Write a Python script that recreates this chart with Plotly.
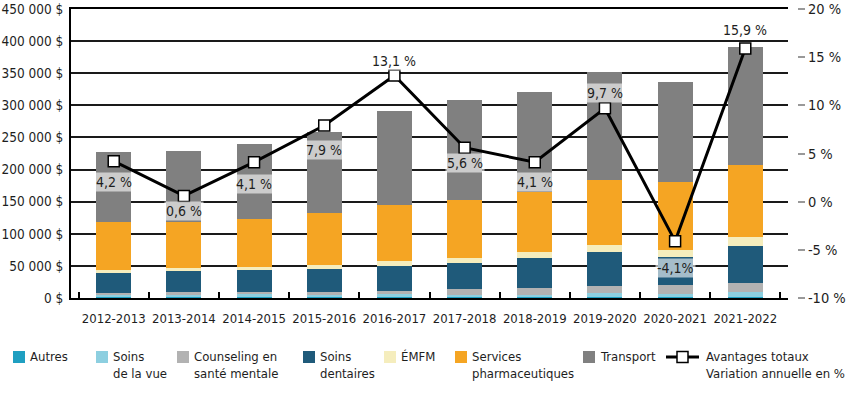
import plotly.graph_objects as go

years = ["2012-2013", "2013-2014", "2014-2015", "2015-2016", "2016-2017",
         "2017-2018", "2018-2019", "2019-2020", "2020-2021", "2021-2022"]

# values in dollars (thousands)
autres      = [1.0, 1.0, 1.2, 1.2, 1.2, 1.0, 1.0, 1.5, 1.2, 1.8]
vue         = [4.4, 4.4, 4.5, 4.5, 4.5, 4.4, 4.0, 6.7, 5.4, 7.0]
counseling  = [3.1, 3.4, 4.0, 3.1, 5.1, 8.1, 10.0, 10.7, 13.2, 14.4]
dentaires   = [30.6, 33.4, 33.6, 36.5, 39.8, 41.7, 47.3, 52.2, 44.1, 57.7]
emfm        = [4.2, 4.7, 5.1, 5.7, 6.6, 7.1, 9.3, 11.9, 11.4, 13.9]
pharma      = [75.8, 72.2, 75.3, 82.0, 87.7, 90.3, 92.8, 100.6, 106.1, 112.4]
transport   = [108.7, 109.8, 115.5, 125.2, 146.9, 155.1, 156.2, 167.9, 155.7, 183.0]

variation = [4.2, 0.6, 4.1, 7.9, 13.1, 5.6, 4.1, 9.7, -4.1, 15.9]
variation_labels = ["4,2 %", "0,6 %", "4,1 %", "7,9 %", "13,1 %",
                    "5,6 %", "4,1 %", "9,7 %", "-4,1%", "15,9 %"]

left_tickvals = [0, 50000, 100000, 150000, 200000, 250000, 300000, 350000, 400000, 450000]
left_ticktext = ["0 $", "50 000 $", "100 000 $", "150 000 $", "200 000 $",
                 "250 000 $", "300 000 $", "350 000 $", "400 000 $", "450 000 $"]
right_tickvals = [-10, -5, 0, 5, 10, 15, 20]
right_ticktext = ["-10 %", "-5 %", "0 %", "5 %", "10 %", "15 %", "20 %"]

series = [
    ("Autres", autres, "#1f9fc1"),
    ("Soins<br>de la vue", vue, "#8dcfe0"),
    ("Counseling en<br>santé mentale", counseling, "#b2b2b2"),
    ("Soins<br>dentaires", dentaires, "#1f5a7a"),
    ("ÉMFM", emfm, "#f5edbd"),
    ("Services<br>pharmaceutiques", pharma, "#f5a523"),
    ("Transport", transport, "#808080"),
]
line_name = "Avantages totaux<br>Variation annuelle en %"

# style: label vertical offsets in pixels (positive = below point)
label_offsets = [21, 15, 22, 24, -14, 15, 20, -15, 27, -19]

FONT = "DejaVu Sans Condensed, Liberation Sans, sans-serif"
TXT = "#1e1e1e"

fig = go.Figure()
for name, vals, col in series:
    fig.add_trace(go.Bar(
        x=years, y=[v * 1000 for v in vals], name=name,
        marker=dict(color=col, line=dict(width=0)),
        showlegend=False, yaxis="y",
    ))

fig.add_trace(go.Scatter(
    x=years, y=variation, name=line_name, yaxis="y2", mode="lines+markers",
    line=dict(color="black", width=3),
    marker=dict(symbol="square", size=11, color="white", line=dict(color="black", width=1.5)),
    showlegend=False, cliponaxis=False,
))

annotations = []
for yr, v, lab, off in zip(years, variation, variation_labels, label_offsets):
    annotations.append(dict(
        x=yr, y=v, xref="x", yref="y2", text=lab, showarrow=False,
        yshift=-off, font=dict(family=FONT, size=14, color=TXT),
        bgcolor="rgba(255,255,255,0.6)", borderpad=1,
    ))

# manual legend (paper coordinates)
L, T, PW, PH = 71, 9, 739, 289
def px(x):
    return (x - L) / PW
def py(y):
    return (PH + T - y) / PH

shapes = []
legend_sq = [13, 96, 177, 303, 384, 455, 583]
legend_tx = [28, 111, 192, 318, 399, 470, 598]
for (name, vals, col), sx, tx in zip(series, legend_sq, legend_tx):
    shapes.append(dict(type="rect", xref="paper", yref="paper",
                       x0=px(sx), x1=px(sx + 12), y0=py(363), y1=py(351),
                       fillcolor=col, line=dict(width=0)))
    annotations.append(dict(x=px(tx), y=py(347), xref="paper", yref="paper",
                            text=name, showarrow=False, xanchor="left", yanchor="top",
                            align="left", font=dict(family=FONT, size=13, color=TXT)))
# line legend symbol
shapes.append(dict(type="line", xref="paper", yref="paper",
                   x0=px(666), x1=px(699), y0=py(357), y1=py(357),
                   line=dict(color="black", width=3)))
shapes.append(dict(type="rect", xref="paper", yref="paper",
                   x0=px(677), x1=px(688), y0=py(362.5), y1=py(351.5),
                   fillcolor="white", line=dict(color="black", width=1.5)))
annotations.append(dict(x=px(704), y=py(347), xref="paper", yref="paper",
                        text=line_name, showarrow=False, xanchor="left", yanchor="top",
                        align="left", font=dict(family=FONT, size=13, color=TXT)))

fig.update_layout(
    template="none",
    width=850, height=399,
    margin=dict(l=L, r=40, t=T, b=101, autoexpand=False),
    paper_bgcolor="white", plot_bgcolor="white",
    barmode="stack", bargap=0.5,
    font=dict(family=FONT, size=14, color=TXT),
    showlegend=False,
    xaxis=dict(
        domain=[0, (788 - L) / PW], type="category", automargin=False,
        showline=True, linecolor="black", linewidth=2, mirror=True,
        ticks="inside", tickson="boundaries", ticklen=6, tickwidth=2, tickcolor="black",
        tickfont=dict(family=FONT, size=13, color=TXT), tickangle=0,
        ticklabelstandoff=7,
        showgrid=False, fixedrange=True,
    ),
    yaxis=dict(
        range=[0, 450000], tickvals=left_tickvals, ticktext=left_ticktext,
        automargin=False, ticklabeloverflow="allow",
        showline=True, linecolor="black", linewidth=2,
        showgrid=True, gridcolor="#1a1a1a", gridwidth=1.5,
        ticks="outside", ticklen=3, tickcolor="rgba(0,0,0,0)",
        tickfont=dict(family=FONT, size=13.5, color=TXT),
        zeroline=False, fixedrange=True,
    ),
    yaxis2=dict(
        range=[-10, 20], tickvals=right_tickvals, ticktext=right_ticktext,
        automargin=False, ticklabeloverflow="allow",
        overlaying="y", side="right", anchor="free", position=(797 - L) / PW,
        showgrid=False, showline=False, zeroline=False,
        ticks="outside", ticklen=7, tickwidth=1.5, tickcolor="#999999",
        tickfont=dict(family=FONT, size=14.5, color=TXT), fixedrange=True,
    ),
    annotations=annotations,
    shapes=shapes,
)

fig.write_html("out.html", config={"displayModeBar": False},
               post_script="document.body.style.margin='0';")
